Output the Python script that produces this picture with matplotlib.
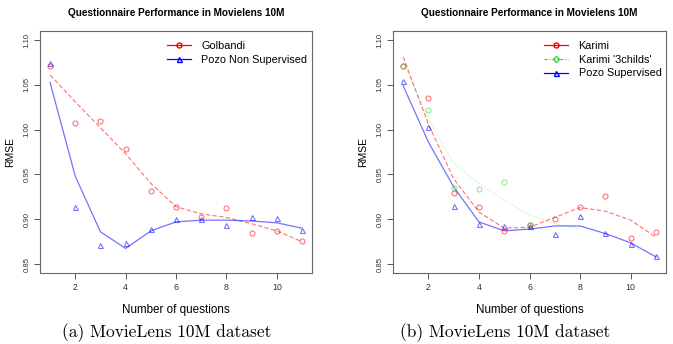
import matplotlib
matplotlib.use('Agg')
import matplotlib.pyplot as plt
from matplotlib.lines import Line2D

questions = list(range(1, 12))

# panel (a)
golbandi_pts = [1.071, 1.007, 1.010, 0.978, 0.931, 0.914, 0.902, 0.9125, 0.885, 0.887, 0.876]
golbandi_fit = [1.061, 1.031, 1.002, 0.973, 0.940, 0.914, 0.906, 0.902, 0.895, 0.887, 0.875]
pozo_ns_pts = [1.0745, 0.914, 0.871, 0.873, 0.889, 0.900, 0.9005, 0.893, 0.902, 0.901, 0.8885]
pozo_ns_fit = [1.0526, 0.948, 0.886, 0.8674, 0.887, 0.897, 0.899, 0.899, 0.898, 0.896, 0.890]

# panel (b)
karimi_pts = [1.0715, 1.035, 0.9295, 0.9136, 0.887, 0.894, 0.9007, 0.9136, 0.9254, 0.8789, 0.8859]
karimi_fit = [1.081, 1.006, 0.945, 0.908, 0.890, 0.891, 0.902, 0.913, 0.909, 0.899, 0.880]
karimi3_x = [1, 2, 3, 4, 5, 6]
karimi3_pts = [1.0715, 1.022, 0.935, 0.934, 0.942, 0.893]
karimi3_fit_x = [1, 2, 3, 4, 5, 6, 7, 8]
karimi3_fit = [1.075, 1.012, 0.962, 0.940, 0.921, 0.905, 0.895, 0.889]
pozo_s_pts = [1.0538, 1.0024, 0.9147, 0.8951, 0.8922, 0.892, 0.8837, 0.9036, 0.8848, 0.8718, 0.8589]
pozo_s_fit = [1.049, 0.986, 0.936, 0.897, 0.887, 0.889, 0.8925, 0.8925, 0.884, 0.8737, 0.858]

y_ticks = [0.85, 0.90, 0.95, 1.00, 1.05, 1.10]
x_ticks = [2, 4, 6, 8, 10]

plt.rcParams['font.family'] = ['Liberation Sans', 'DejaVu Sans']

RED = (1, 0, 0, 0.55)
BLUE = (0, 0, 1, 0.55)
GREEN = (0, 0.85, 0, 0.45)

fig = plt.figure(figsize=(6.73, 3.44), dpi=100)
ax1 = fig.add_axes([0.0594, 0.2064, 0.4042, 0.7035])
ax2 = fig.add_axes([0.584, 0.2064, 0.4056, 0.7035])


def style(ax):
    ax.set_xlim(0.6, 11.4)
    ax.set_ylim(0.84, 1.11)
    ax.set_xticks(x_ticks)
    ax.set_yticks(y_ticks)
    ax.set_yticklabels(['%.2f' % v for v in y_ticks], rotation=90, va='center', fontsize=5.6, color='#333333')
    ax.set_xticklabels([str(v) for v in x_ticks], fontsize=6.3, color='#333333')
    ax.tick_params(direction='out', length=4, width=0.7, color='#555555', pad=3)
    for s in ax.spines.values():
        s.set_color('#666666')
        s.set_linewidth(0.8)
    ax.set_title('Questionnaire Performance in Movielens 10M', fontsize=7.2, fontweight='bold', pad=11)
    ax.set_ylabel('RMSE', fontsize=7.5, labelpad=6)
    ax.set_xlabel('Number of questions', fontsize=8.4, labelpad=9)


mk = dict(linestyle='none', markerfacecolor='none', markersize=3.6, markeredgewidth=0.8)

ax1.plot(questions, golbandi_fit, color=RED, linestyle=(0, (4, 2)), linewidth=0.8)
ax1.plot(questions, pozo_ns_fit, color=BLUE, linewidth=0.9)
ax1.plot(questions, golbandi_pts, marker='o', markeredgecolor=RED, **mk)
ax1.plot(questions, pozo_ns_pts, marker='^', markeredgecolor=BLUE, **mk)
style(ax1)
h1 = [Line2D([], [], color='red', marker='o', markerfacecolor='none', markersize=3.6, linewidth=0.9),
      Line2D([], [], color='blue', marker='^', markerfacecolor='none', markersize=3.6, linewidth=0.9)]
ax1.legend(h1, ['Golbandi', 'Pozo Non Supervised'], loc='upper left', bbox_to_anchor=(0.43, 1.0),
           frameon=False, fontsize=7.8, handlelength=2.2, handletextpad=1.0, labelspacing=0.35)

ax2.plot(karimi3_fit_x, karimi3_fit, color=(0, 0.85, 0, 0.35), linestyle=(0, (1, 1.5)), linewidth=0.7)
ax2.plot(questions, karimi_fit, color=RED, linestyle=(0, (4, 2)), linewidth=0.8)
ax2.plot(questions, pozo_s_fit, color=BLUE, linewidth=0.9)
ax2.plot(questions, karimi_pts, marker='o', markeredgecolor=RED, **mk)
ax2.plot(karimi3_x, karimi3_pts, marker='o', markeredgecolor=GREEN, **mk)
ax2.plot(questions, pozo_s_pts, marker='^', markeredgecolor=BLUE, **mk)
style(ax2)
h2 = [Line2D([], [], color='red', marker='o', markerfacecolor='none', markersize=3.6, linewidth=0.9),
      Line2D([], [], color='#33dd33', marker='D', markerfacecolor='none', markersize=3.2, linewidth=0.8,
             linestyle=(0, (3, 1.5, 1, 1.5))),
      Line2D([], [], color='blue', marker='^', markerfacecolor='none', markersize=3.6, linewidth=0.9)]
ax2.legend(h2, ['Karimi', "Karimi '3childs'", 'Pozo Supervised'], loc='upper left', bbox_to_anchor=(0.517, 1.0),
           frameon=False, fontsize=7.8, handlelength=2.2, handletextpad=1.0, labelspacing=0.35)

fig.text(0.248, 1.5 / 344, '(a) MovieLens 10M dataset', family='cmr10', fontsize=12.5, ha='center', va='bottom')
fig.text(0.751, 1.5 / 344, '(b) MovieLens 10M dataset', family='cmr10', fontsize=12.5, ha='center', va='bottom')

fig.savefig('out.png', dpi=100)
